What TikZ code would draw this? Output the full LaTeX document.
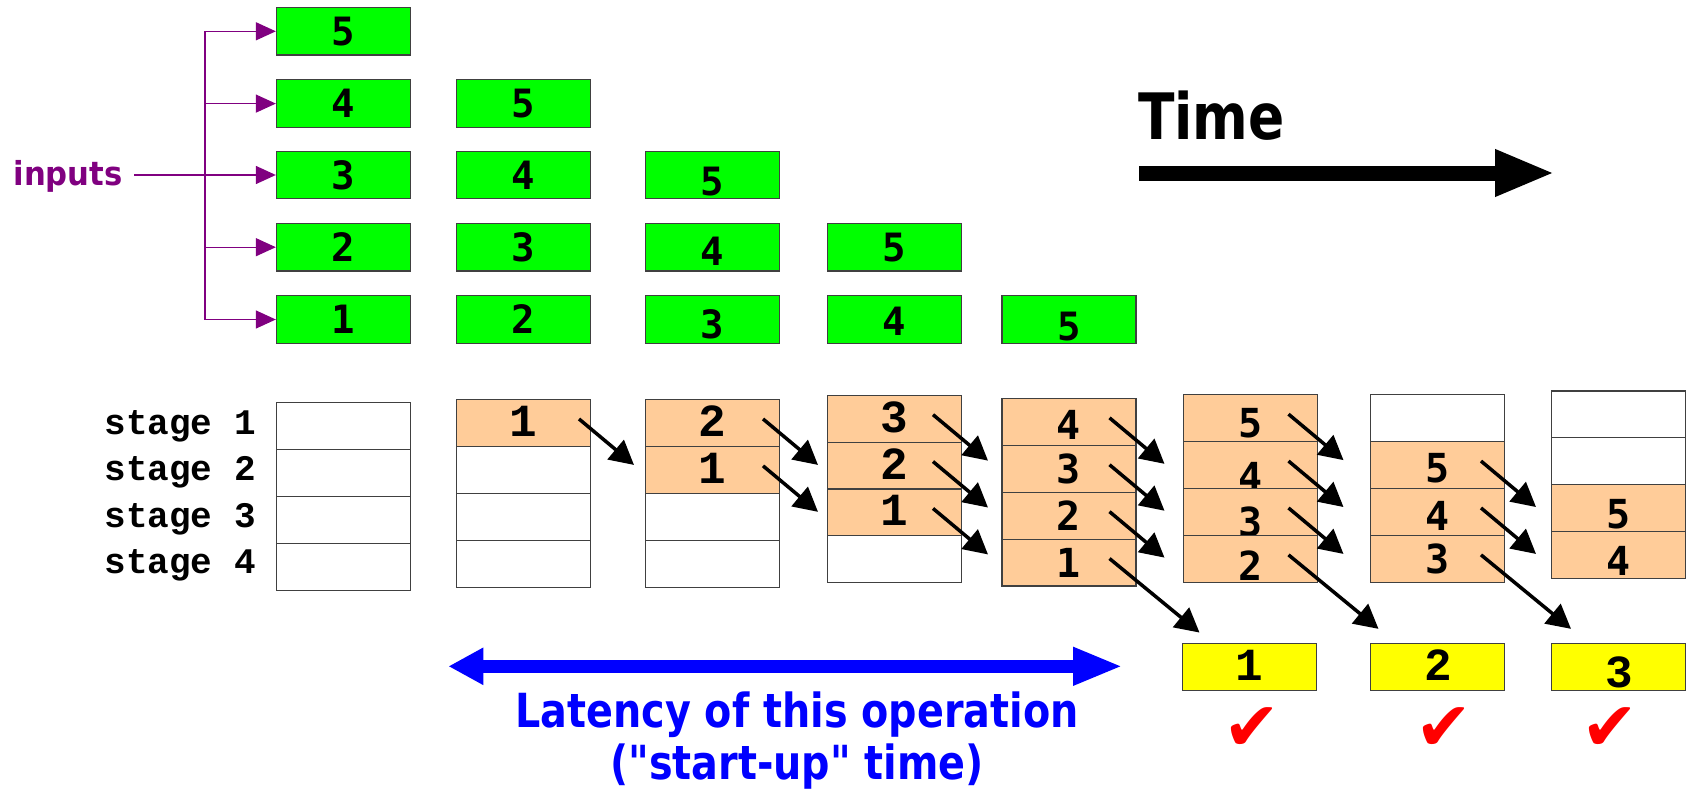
\documentclass[tikz,border=0pt]{standalone}
\usepackage{fontspec}
\setmainfont{DejaVu Sans}
\newfontfamily\plainsans{DejaVu Sans}
\newfontfamily\dvmono{DejaVu Sans Mono}
\newfontfamily\cour{Liberation Mono}
\usetikzlibrary{arrows.meta,calc}
\definecolor{peach}{HTML}{FFCC99}
\definecolor{inpurple}{HTML}{800080}
\definecolor{gfill}{HTML}{00FF00}
\definecolor{yfill}{HTML}{FFFF00}
\newcommand\lowerby[2]{\raisebox{-#1pt}{#2}}

\begin{document}
\begin{tikzpicture}[x=1pt,y=-1pt,
  box/.style={draw=black!75, line width=1.1pt, minimum width=134pt, inner sep=0pt, text depth=0pt},
  gbox/.style={box, fill=gfill, minimum height=47.5pt, font=\dvmono\bfseries\fontsize{39}{39}\selectfont, text height=28.4pt},
  cellc/.style={box, minimum height=46.9pt, font=\cour\bfseries\fontsize{46}{46}\selectfont, text height=27pt},
  celld/.style={box, minimum height=46.9pt, font=\dvmono\bfseries\fontsize{40}{40}\selectfont, text height=29.2pt},
  busy/.style={fill=peach},
  idle/.style={fill=white},
  ybox/.style={box, fill=yfill, minimum height=47.5pt, font=\cour\bfseries\fontsize{46}{46}\selectfont, text height=27pt},
  feedline/.style={draw=inpurple, line width=1.3pt},
  feed/.style={feedline, -{Triangle[length=20pt,width=18pt]}},
  shiftarrow/.style={draw=black, line width=3.5pt, -{Triangle[length=24pt,width=25pt]}},
  stagelbl/.style={anchor=base east, inner sep=0pt, font=\cour\bfseries\fontsize{36}{36}\selectfont},
  tick/.style={text=red, font=\fontsize{68}{68}\selectfont, inner sep=0pt}
]
\useasboundingbox (0,0) rectangle (1693,789);
\fill[white] (0,0) rectangle (1693,789);

% ---------- input queue (green) ----------
\node[gbox] (g1r5) at (343.4,31.3) {5};
\node[gbox] (g1r4) at (343.4,103.6) {4};
\node[gbox] (g1r3) at (343.4,175) {3};
\node[gbox] (g1r2) at (343.4,247.2) {2};
\node[gbox] (g1r1) at (343.4,319.5) {1};

\node[gbox] (g2r4) at (523.7,103.6) {5};
\node[gbox] (g2r3) at (523.7,175) {4};
\node[gbox] (g2r2) at (523.7,247.2) {3};
\node[gbox] (g2r1) at (523.7,319.5) {2};

\node[gbox] (g3r3) at (712.7,175) {\lowerby{6.5}{5}};
\node[gbox] (g3r2) at (712.7,247.2) {\lowerby{4.5}{4}};
\node[gbox] (g3r1) at (712.7,319.5) {\lowerby{4.5}{3}};

\node[gbox] (g4r2) at (894.1,247.2) {5};
\node[gbox] (g4r1) at (894.1,319.5) {\lowerby{2}{4}};

\node[gbox] (g5r1) at (1069,319.5) {\lowerby{6.5}{5}};

% ---------- inputs fan-out ----------
\node[anchor=base west, inner sep=0pt, text=inpurple, font=\bfseries\fontsize{33}{33}\selectfont] (inputs) at (13.4,185) {\scalebox{0.93}[1]{inputs}};
\coordinate (trunkTop) at (205,31.3);
\coordinate (trunkBot) at (205,319.5);
\coordinate (inStart) at (134,175);
\draw[feedline] (trunkTop) -- (trunkBot);
\draw[feedline] (inStart) -- (trunkTop |- inStart);
\foreach \r in {1,...,5}{
  \draw[feed] (trunkTop |- g1r\r.west) -- (g1r\r.west);
}

% ---------- Time ----------
\node[anchor=base west, inner sep=0pt, font=\bfseries\fontsize{64}{64}\selectfont] (time) at (1138,139.3) {\scalebox{0.835}[1]{Time}};
\coordinate (tA) at (1139,173);
\coordinate (tB) at (1555,173);
\draw[line width=15pt, -{Triangle[length=60pt,width=43pt]}] (tA) -- (tB);

% ---------- stage labels ----------
\node[stagelbl] (st1) at (255.9,434) {stage 1};
\node[stagelbl] (st2) at (255.9,480.7) {stage 2};
\node[stagelbl] (st3) at (255.9,527) {stage 3};
\node[stagelbl] (st4) at (255.9,573.5) {stage 4};

% ---------- pipeline snapshots ----------
% column 1
\node[cellc,idle] (s1r1) at (343.4,426.15) {};
\node[cellc,idle] (s1r2) at (343.4,473.05) {};
\node[cellc,idle] (s1r3) at (343.4,519.95) {};
\node[cellc,idle] (s1r4) at (343.4,566.85) {};
% column 2
\node[cellc,busy] (s2r1) at (523.7,422.95) {1};
\node[cellc,idle] (s2r2) at (523.7,469.85) {};
\node[cellc,idle] (s2r3) at (523.7,516.75) {};
\node[cellc,idle] (s2r4) at (523.7,563.65) {};
% column 3
\node[cellc,busy] (s3r1) at (712.7,422.95) {2};
\node[cellc,busy] (s3r2) at (712.7,469.85) {1};
\node[cellc,idle] (s3r3) at (712.7,516.75) {};
\node[cellc,idle] (s3r4) at (712.7,563.65) {};
% column 4
\node[cellc,busy] (s4r1) at (894.1,418.65) {3};
\node[cellc,busy] (s4r2) at (894.1,465.55) {2};
\node[cellc,busy] (s4r3) at (894.1,512.45) {1};
\node[cellc,idle] (s4r4) at (894.1,559.35) {};
% column 5
\node[celld,busy] (s5r1) at (1069,421.85) {\lowerby{3.5}{4}};
\node[celld,busy] (s5r2) at (1069,468.75) {3};
\node[celld,busy] (s5r3) at (1069,515.65) {2};
\node[celld,busy] (s5r4) at (1069,562.55) {1};
% column 6
\node[celld,busy] (s6r1) at (1250.4,418.15) {\lowerby{5}{5}};
\node[celld,busy] (s6r2) at (1250.4,465.05) {\lowerby{12}{4}};
\node[celld,busy] (s6r3) at (1250.4,511.95) {\lowerby{10}{3}};
\node[celld,busy] (s6r4) at (1250.4,558.85) {\lowerby{7}{2}};
% column 7
\node[celld,idle] (s7r1) at (1437.1,418.15) {};
\node[celld,busy] (s7r2) at (1437.1,465.05) {\lowerby{3}{5}};
\node[celld,busy] (s7r3) at (1437.1,511.95) {\lowerby{4}{4}};
\node[celld,busy] (s7r4) at (1437.1,558.85) {3};
% column 8
\node[celld,idle] (s8r1) at (1618.5,414.45) {};
\node[celld,idle] (s8r2) at (1618.5,461.35) {};
\node[celld,busy] (s8r3) at (1618.5,508.25) {\lowerby{6}{5}};
\node[celld,busy] (s8r4) at (1618.5,555.15) {\lowerby{6}{4}};

% ---------- outputs ----------
\node[ybox] (y1) at (1249.2,667) {1};
\node[ybox] (y2) at (1437.8,667) {2};
\node[ybox] (y3) at (1618.8,667) {\lowerby{7}{3}};

\node[tick] (ok1) at (1252,729) {✔};
\node[tick] (ok2) at (1444,729) {✔};
\node[tick] (ok3) at (1610,729) {✔};

% ---------- stage-to-stage moves ----------
\draw[shiftarrow] ($(s2r1.center)+(55.3,-4)$) -- ++(55,46);
\foreach \r in {1,2}{
  \draw[shiftarrow] ($(s3r\r.center)+(50.3,-4)$) -- ++(55,46);
}
\foreach \r in {1,2,3}{
  \draw[shiftarrow] ($(s4r\r.center)+(38.9,-4)$) -- ++(55,46);
  \draw[shiftarrow] ($(s5r\r.center)+(40.5,-4)$) -- ++(55,46);
  \draw[shiftarrow] ($(s6r\r.center)+(38.1,-4)$) -- ++(55,46);
}
\foreach \r in {2,3}{
  \draw[shiftarrow] ($(s7r\r.center)+(43.9,-4)$) -- ++(55,46);
}
\draw[shiftarrow] ($(s5r4.center)+(40.5,-4)$) -- ++(90,74);
\draw[shiftarrow] ($(s6r4.center)+(38.1,-4)$) -- ++(90,74);
\draw[shiftarrow] ($(s7r4.center)+(43.9,-4)$) -- ++(90,74);

% ---------- latency ----------
\coordinate (latL) at (448.4,666.3);
\coordinate (latR) at (1123,666.3);
\draw[blue, line width=12.7pt, {Triangle[length=35pt,width=35pt]}-{Triangle[length=50pt,width=35pt]}] (latL) -- (latR);
\node[anchor=base, inner sep=0pt, text=blue, font=\bfseries\fontsize{47}{47}\selectfont] (lat1) at (797,727.7) {\scalebox{0.845}[1]{Latency of this operation}};
\node[anchor=base, inner sep=0pt, text=blue, font=\plainsans\bfseries\fontsize{47}{47}\selectfont] (lat2) at (797,779.3) {\scalebox{0.845}[1]{("start-up" time)}};
\end{tikzpicture}
\end{document}
